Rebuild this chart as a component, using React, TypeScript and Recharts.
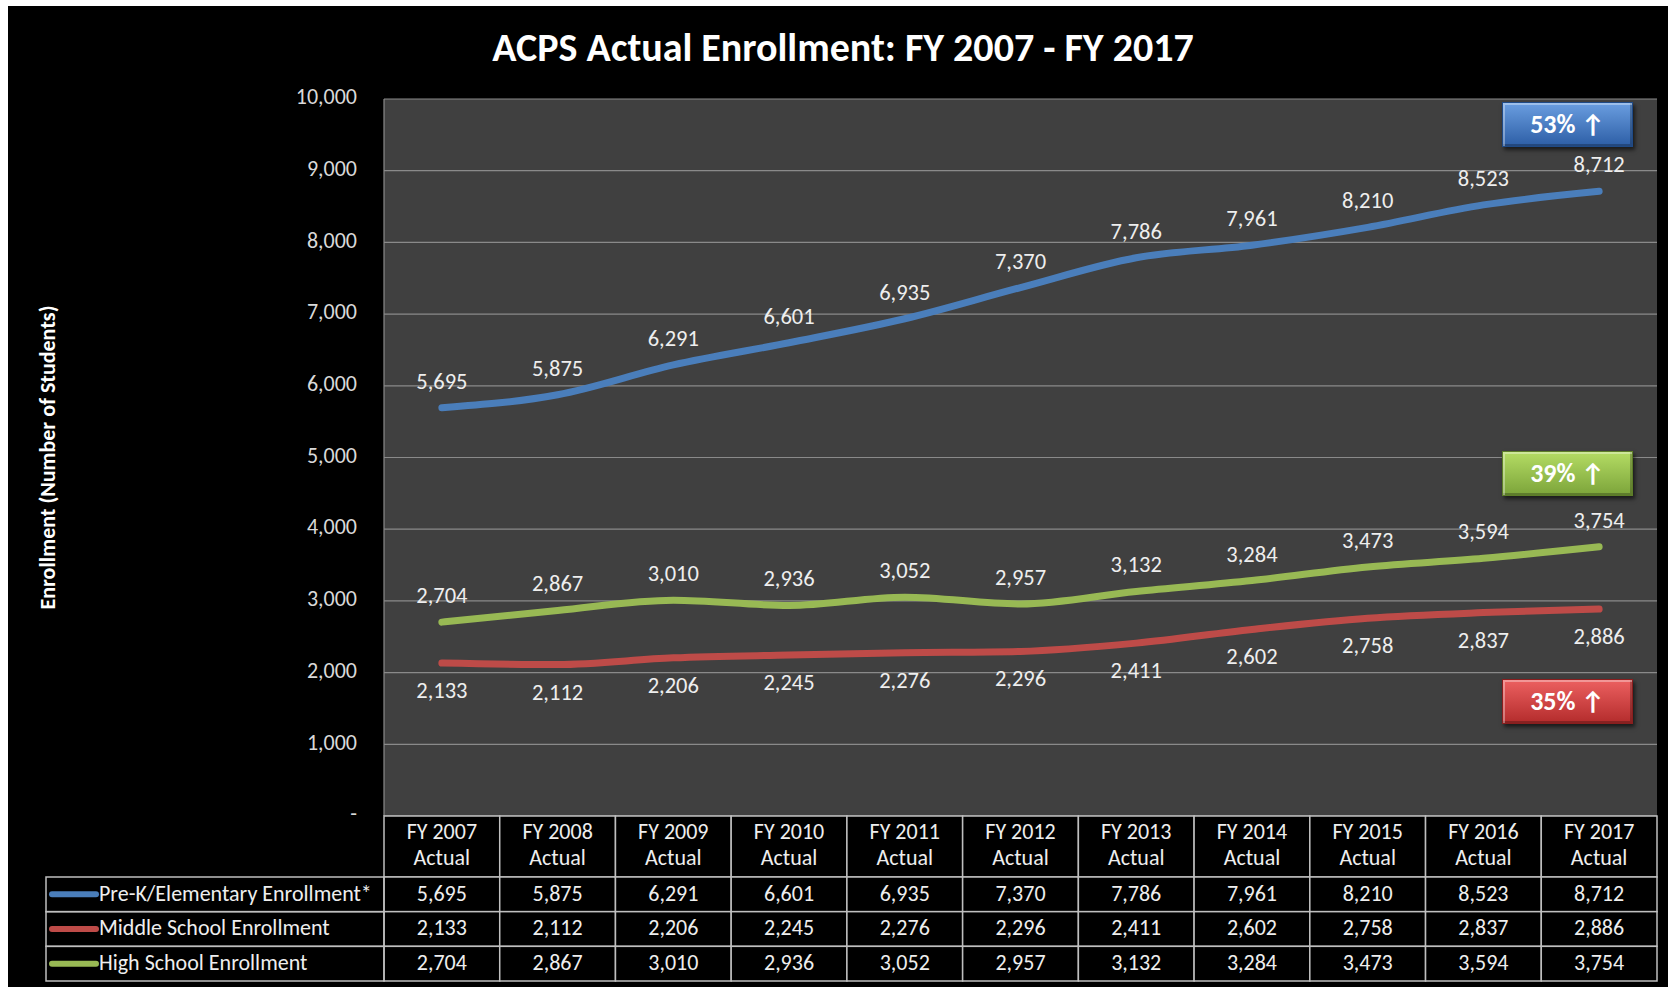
import React from 'react'
import { LineChart, Line, XAxis, YAxis, CartesianGrid, LabelList, Label } from 'recharts'

// enrollment by school level, FY 2007 - FY 2017
const categories = [
  'FY 2007 Actual', 'FY 2008 Actual', 'FY 2009 Actual', 'FY 2010 Actual', 'FY 2011 Actual',
  'FY 2012 Actual', 'FY 2013 Actual', 'FY 2014 Actual', 'FY 2015 Actual', 'FY 2016 Actual', 'FY 2017 Actual',
]
const elementary = [5695, 5875, 6291, 6601, 6935, 7370, 7786, 7961, 8210, 8523, 8712]
const middle = [2133, 2112, 2206, 2245, 2276, 2296, 2411, 2602, 2758, 2837, 2886]
const high = [2704, 2867, 3010, 2936, 3052, 2957, 3132, 3284, 3473, 3594, 3754]
const yTicks = [0, 1000, 2000, 3000, 4000, 5000, 6000, 7000, 8000, 9000, 10000]

const series = [
  { key: 'elem', name: 'Pre-K/Elementary Enrollment*', color: '#4a7ebb', values: elementary, pos: 'top' },
  { key: 'mid', name: 'Middle School Enrollment', color: '#be4b48', values: middle, pos: 'bottom' },
  { key: 'high', name: 'High School Enrollment', color: '#98b954', values: high, pos: 'top' },
]

const badges = [
  { text: '53%', top: 102, from: '#6a9ee0', to: '#2d5ea6', edge: '#1f4a86' },
  { text: '39%', top: 451, from: '#b4dc64', to: '#7ca43a', edge: '#5d7e28' },
  { text: '35%', top: 679, from: '#ec6060', to: '#b42c2c', edge: '#8a1e1e' },
]

const W = 1673
const H = 987
const PLOT_L = 384
const PLOT_R = 1657
const PLOT_T = 99
const PLOT_B = 816
const BAND = (PLOT_R - PLOT_L) / categories.length
const HEADER_H = 61
const ROW_H = (981 - 877) / 3
const FONT = 'Carlito, Calibri, Lato, sans-serif'
const TXT = '#eeeeee'
const BORDER = '#bfbfbf'

const data = categories.map((c, i) => ({
  name: c,
  elem: elementary[i],
  mid: middle[i],
  high: high[i],
}))

const fmt = (v: number) => v.toLocaleString('en-US')

function TableColumn(props: any) {
  const { x, y, payload } = props
  const i = payload.index ?? props.index
  const left = x - BAND / 2
  const label: string = payload.value
  const cut = label.lastIndexOf(' ')
  return (
    <g fontFamily={FONT} fontSize={22} fill={TXT}>
      <rect x={left} y={y} width={BAND} height={HEADER_H} fill="#000" stroke={BORDER} strokeWidth={1.5} />
      <text x={x} y={y + 18} textAnchor="middle" dominantBaseline="middle">{label.slice(0, cut)}</text>
      <text x={x} y={y + 44} textAnchor="middle" dominantBaseline="middle">{label.slice(cut + 1)}</text>
      {series.map((s, r) => {
        const top = y + HEADER_H + r * ROW_H
        return (
          <g key={s.key}>
            <rect x={left} y={top} width={BAND} height={ROW_H} fill="#000" stroke={BORDER} strokeWidth={1.5} />
            <text x={x} y={top + ROW_H / 2 + 1} textAnchor="middle" dominantBaseline="middle">{fmt(s.values[i])}</text>
          </g>
        )
      })}
    </g>
  )
}

function YTick(props: any) {
  const { x, y, payload } = props
  return (
    <text x={x} y={y} textAnchor="end" dominantBaseline="middle" fontFamily={FONT} fontSize={22} fill="#d9d9d9">
      {payload.value === 0 ? '-' : fmt(payload.value)}
    </text>
  )
}

function YTitle(props: any) {
  const vb = props.viewBox || { y: PLOT_T, height: PLOT_B - PLOT_T }
  const cy = vb.y + vb.height / 2
  return (
    <text x={50} y={cy} transform={`rotate(-90, 50, ${cy})`} textAnchor="middle" dominantBaseline="middle"
      fontFamily={FONT} fontSize={22} fontWeight="bold" fill="#fff">
      Enrollment (Number of Students)
    </text>
  )
}

export default function App() {
  return (
    <div style={{ position: 'relative', width: W, height: H, background: '#fff', overflow: 'hidden' }}>
      <style>{'body{margin:0}'}</style>
      <div style={{ position: 'absolute', left: 8, top: 6, width: 1660, height: 981, background: '#000' }} />
      <div style={{
        position: 'absolute', left: 0, top: 23, width: 1686, textAlign: 'center', color: '#fff',
        fontFamily: FONT, fontWeight: 'bold', fontSize: 40, lineHeight: '50px',
      }}>
        ACPS Actual Enrollment: FY 2007 - FY 2017
      </div>
      <div style={{ position: 'absolute', left: 0, top: 0 }}>
        <LineChart width={W} height={H} data={data}
          margin={{ top: PLOT_T, right: W - PLOT_R, bottom: 0, left: 0 }}>
          <CartesianGrid vertical={false} stroke="#8a8a8a" strokeWidth={1.2} fill="#404040" />
          <XAxis dataKey="name" height={H - PLOT_B} axisLine={false} tickLine={false} tickSize={0} tickMargin={0}
            interval={0} padding={{ left: BAND / 2, right: BAND / 2 }} tick={<TableColumn />} />
          <YAxis width={PLOT_L} domain={[0, 10000]} ticks={yTicks} interval={0} tickLine={false} tickSize={0}
            tickMargin={27} axisLine={{ stroke: '#8a8a8a', strokeWidth: 1.2 }} tick={<YTick />}>
            <Label content={<YTitle />} />
          </YAxis>
          {series.map((s) => (
            <Line key={s.key} dataKey={s.key} name={s.name} type="monotone" stroke={s.color} strokeWidth={7}
              strokeLinecap="round" dot={false} activeDot={false} isAnimationActive={false}>
              <LabelList dataKey={s.key} position={s.pos as any} offset={19} formatter={(v: any) => fmt(v)}
                fill={TXT} fontFamily={FONT} fontSize={22.5} />
            </Line>
          ))}
        </LineChart>
      </div>
      <svg width={W} height={H} style={{ position: 'absolute', left: 0, top: 0, pointerEvents: 'none' }}>
        {series.map((s, r) => {
          const top = PLOT_B + HEADER_H + r * ROW_H
          return (
            <g key={s.key}>
              <rect x={46} y={top} width={PLOT_L - 46} height={ROW_H} fill="none" stroke={BORDER} strokeWidth={1.5} />
              <line x1={52} x2={96} y1={top + ROW_H / 2} y2={top + ROW_H / 2} stroke={s.color} strokeWidth={6} strokeLinecap="round" />
              <text x={99} y={top + ROW_H / 2 + 1} dominantBaseline="middle" fontFamily={FONT} fontSize={22} fill={TXT}>{s.name}</text>
            </g>
          )
        })}
      </svg>
      {badges.map((b) => (
        <div key={b.text} style={{
          position: 'absolute', left: 1502, top: b.top, width: 131, height: 45, boxSizing: 'border-box',
          background: `linear-gradient(${b.from}, ${b.to})`, border: `1px solid ${b.edge}`,
          boxShadow: `inset 2px 2px 0 rgba(255,255,255,0.35), inset -2px -2px 0 rgba(0,0,0,0.25), 2px 3px 4px rgba(0,0,0,0.6)`,
          color: '#fff', fontFamily: FONT, fontWeight: 'bold', fontSize: 26, lineHeight: '43px', textAlign: 'center',
        }}>
          {b.text} ↑
        </div>
      ))}
    </div>
  )
}
